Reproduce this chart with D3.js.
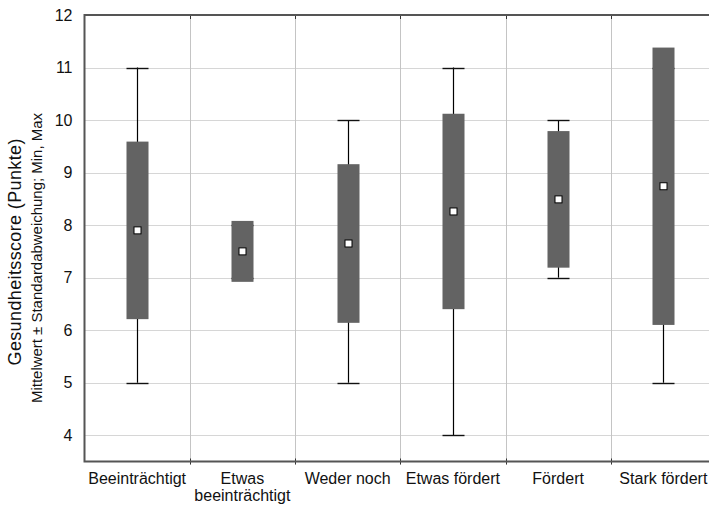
<!DOCTYPE html>
<html>
<head>
<meta charset="utf-8">
<script src="https://cdn.jsdelivr.net/npm/d3@7"></script>
<style>
  html, body { margin: 0; padding: 0; background: #fff; }
  svg { display: block; font-family: "Liberation Sans", Arial, sans-serif; }
</style>
</head>
<body>
<svg id="chart"></svg>
<script>
// values
var categories = ['Beeinträchtigt', 'Etwas beeinträchtigt', 'Weder noch', 'Etwas fördert', 'Fördert', 'Stark fördert'];
var labelLines = [['Beeinträchtigt'], ['Etwas', 'beeinträchtigt'], ['Weder noch'], ['Etwas fördert'], ['Fördert'], ['Stark fördert']];
var means = [7.90, 7.50, 7.65, 8.26, 8.49, 8.74];
var sds = [1.69, 0.58, 1.51, 1.86, 1.30, 2.64];
var mins = [5, 7, 5, 4, 7, 5];
var maxs = [11, 8, 10, 11, 10, 11];
var yTicks = [4, 5, 6, 7, 8, 9, 10, 11, 12];

var W = 709, H = 505;
var margin = { top: 15, right: -7, bottom: 44, left: 84.5 };

var svg = d3.select('#chart').attr('width', W).attr('height', H);

var x = d3.scaleBand()
    .domain(categories)
    .range([margin.left, W - margin.right])
    .padding(0);

var y = d3.scaleLinear()
    .domain([3.5, 12])
    .range([H - margin.bottom + 0.5, margin.top]);

var boxW = 22;
var rows = categories.map(function(c, i) {
    return { cat: c, mean: means[i], sd: sds[i], min: mins[i], max: maxs[i], lines: labelLines[i] };
});

// horizontal grid
svg.append('g')
    .selectAll('line')
    .data(yTicks)
    .enter().append('line')
    .attr('x1', x.range()[0]).attr('x2', x.range()[1])
    .attr('y1', function(d) { return Math.round(y(d)) + 0.5; })
    .attr('y2', function(d) { return Math.round(y(d)) + 0.5; })
    .attr('stroke', '#d6d6d6').attr('stroke-width', 1.2);

// vertical dividers between categories
var bounds = categories.slice(1).map(function(c) { return x(c); });
svg.append('g')
    .selectAll('line')
    .data(bounds)
    .enter().append('line')
    .attr('x1', function(d) { return Math.round(d) + 0.5; })
    .attr('x2', function(d) { return Math.round(d) + 0.5; })
    .attr('y1', y.range()[1]).attr('y2', y.range()[0] + 3)
    .attr('stroke', '#c4c4c4').attr('stroke-width', 1);

// bounds tick marks on the axes
svg.append('g')
    .selectAll('line')
    .data(bounds)
    .enter().append('line')
    .attr('x1', function(d) { return Math.round(d) + 0.5; })
    .attr('x2', function(d) { return Math.round(d) + 0.5; })
    .attr('y1', y.range()[0] - 3).attr('y2', y.range()[0] + 3)
    .attr('stroke', '#333').attr('stroke-width', 1);
svg.append('g')
    .selectAll('line')
    .data(bounds)
    .enter().append('line')
    .attr('x1', function(d) { return Math.round(d) + 0.5; })
    .attr('x2', function(d) { return Math.round(d) + 0.5; })
    .attr('y1', y.range()[1]).attr('y2', y.range()[1] + 4)
    .attr('stroke', '#333').attr('stroke-width', 1);

// whiskers (min - max)
var g = svg.append('g');
var cx = function(d) { return Math.round(x(d.cat) + x.bandwidth() / 2) + 0.5; };

g.selectAll('.whisker')
    .data(rows)
    .enter().append('line')
    .attr('class', 'whisker')
    .attr('x1', cx).attr('x2', cx)
    .attr('y1', function(d) { return y(d.min); })
    .attr('y2', function(d) { return y(d.max); })
    .attr('stroke', '#000').attr('stroke-width', 1.2);

g.selectAll('.cap')
    .data(rows.reduce(function(a, d) { return a.concat([{ cat: d.cat, v: d.min }, { cat: d.cat, v: d.max }]); }, []))
    .enter().append('line')
    .attr('class', 'cap')
    .attr('x1', function(d) { return cx(d) - boxW / 2; })
    .attr('x2', function(d) { return cx(d) + boxW / 2; })
    .attr('y1', function(d) { return Math.round(y(d.v)) + 0.5; })
    .attr('y2', function(d) { return Math.round(y(d.v)) + 0.5; })
    .attr('stroke', '#111').attr('stroke-width', 1.4);

// sd boxes
g.selectAll('.box')
    .data(rows)
    .enter().append('rect')
    .attr('class', 'box')
    .attr('x', function(d) { return cx(d) - boxW / 2; })
    .attr('width', boxW)
    .attr('y', function(d) { return y(d.mean + d.sd); })
    .attr('height', function(d) { return y(d.mean - d.sd) - y(d.mean + d.sd); })
    .attr('fill', '#636363');

// mean markers
g.selectAll('.mean')
    .data(rows)
    .enter().append('rect')
    .attr('class', 'mean')
    .attr('x', function(d) { return cx(d) - 3.5; })
    .attr('y', function(d) { return y(d.mean) - 3.5; })
    .attr('width', 7).attr('height', 7)
    .attr('fill', '#fff').attr('stroke', '#000').attr('stroke-width', 1);

// frame
var x0 = margin.left, y0 = y.range()[0], y1 = y.range()[1];
svg.append('path')
    .attr('d', 'M' + W + ',' + y1 + 'H' + x0 + 'V' + y0 + 'H' + W)
    .attr('fill', 'none').attr('stroke', '#555').attr('stroke-width', 2);

// y axis
var yAxis = svg.append('g')
    .attr('transform', 'translate(' + x0 + ',0)')
    .call(d3.axisLeft(y).tickValues(yTicks).tickSize(0).tickPadding(12).tickFormat(d3.format('d')));
yAxis.select('.domain').remove();
yAxis.selectAll('text')
    .attr('font-size', 16).attr('fill', '#111')
    .attr('font-family', '"Liberation Sans", Arial, sans-serif');

// x axis labels
var xl = svg.append('g');
rows.forEach(function(d) {
    var t = xl.append('text')
        .attr('x', x(d.cat) + x.bandwidth() / 2)
        .attr('y', 484)
        .attr('text-anchor', 'middle')
        .attr('font-size', 16).attr('fill', '#111');
    d.lines.forEach(function(s, i) {
        t.append('tspan')
            .attr('x', x(d.cat) + x.bandwidth() / 2)
            .attr('dy', i === 0 ? 0 : 17)
            .text(s);
    });
});

// y titles
svg.append('text')
    .attr('transform', 'translate(21,252) rotate(-90)')
    .attr('text-anchor', 'middle')
    .attr('font-size', 18).attr('fill', '#111')
    .attr('textLength', 227).attr('lengthAdjust', 'spacing')
    .text('Gesundheitsscore (Punkte)');
svg.append('text')
    .attr('transform', 'translate(42,258) rotate(-90)')
    .attr('text-anchor', 'middle')
    .attr('font-size', 15).attr('fill', '#111')
    .attr('textLength', 290).attr('lengthAdjust', 'spacing')
    .text('Mittelwert ± Standardabweichung; Min, Max');
</script>
</body>
</html>
